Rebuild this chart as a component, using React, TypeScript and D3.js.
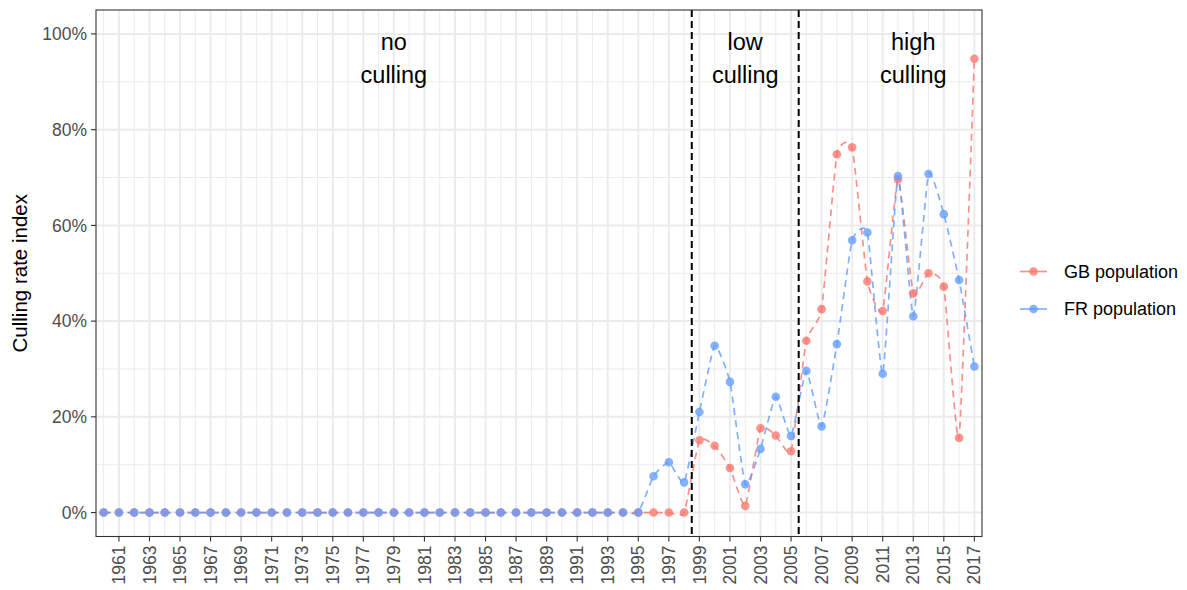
import React, { useEffect } from "react";
import * as d3 from "d3";

const years: number[] = [
  1960, 1961, 1962, 1963, 1964, 1965, 1966, 1967, 1968, 1969,
  1970, 1971, 1972, 1973, 1974, 1975, 1976, 1977, 1978, 1979,
  1980, 1981, 1982, 1983, 1984, 1985, 1986, 1987, 1988, 1989,
  1990, 1991, 1992, 1993, 1994, 1995, 1996, 1997, 1998, 1999,
  2000, 2001, 2002, 2003, 2004, 2005, 2006, 2007, 2008, 2009,
  2010, 2011, 2012, 2013, 2014, 2015, 2016, 2017,
];

// Culling rate index (fraction)
const gbValues: number[] = [
  0, 0, 0, 0, 0, 0, 0, 0, 0, 0,
  0, 0, 0, 0, 0, 0, 0, 0, 0, 0,
  0, 0, 0, 0, 0, 0, 0, 0, 0, 0,
  0, 0, 0, 0, 0, 0, 0, 0, 0, 0.151,
  0.1395, 0.093, 0.014, 0.176, 0.161, 0.128, 0.359, 0.425, 0.7485, 0.763,
  0.483, 0.421, 0.696, 0.458, 0.5, 0.472, 0.156, 0.948,
];

const frValues: number[] = [
  0, 0, 0, 0, 0, 0, 0, 0, 0, 0,
  0, 0, 0, 0, 0, 0, 0, 0, 0, 0,
  0, 0, 0, 0, 0, 0, 0, 0, 0, 0,
  0, 0, 0, 0, 0, 0, 0.076, 0.105, 0.063, 0.21,
  0.3485, 0.273, 0.059, 0.133, 0.242, 0.16, 0.296, 0.18, 0.352, 0.569,
  0.585, 0.29, 0.703, 0.41, 0.7075, 0.6235, 0.486, 0.305,
];

const xTickYears: number[] = [
  1961, 1963, 1965, 1967, 1969, 1971, 1973, 1975, 1977, 1979,
  1981, 1983, 1985, 1987, 1989, 1991, 1993, 1995, 1997, 1999,
  2001, 2003, 2005, 2007, 2009, 2011, 2013, 2015, 2017,
];
const xMinorYears: number[] = [
  1960, 1962, 1964, 1966, 1968, 1970, 1972, 1974, 1976, 1978,
  1980, 1982, 1984, 1986, 1988, 1990, 1992, 1994, 1996, 1998,
  2000, 2002, 2004, 2006, 2008, 2010, 2012, 2014, 2016,
];
const yTicks: number[] = [0, 0.2, 0.4, 0.6, 0.8, 1.0];
const yMinor: number[] = [0.1, 0.3, 0.5, 0.7, 0.9];

const periodBreaks: number[] = [1998.5, 2005.5];
const periodLabels: { year: number; lines: string[] }[] = [
  { year: 1979, lines: ["no", "culling"] },
  { year: 2002, lines: ["low", "culling"] },
  { year: 2013, lines: ["high", "culling"] },
];

const seriesNames = ["GB population", "FR population"];
const seriesColors = ["#F8766D", "#619CFF"];

const W = 1187;
const H = 590;
const panel = { left: 96, right: 982, top: 10, bottom: 536.5 };
const FONT = "'Liberation Sans', Arial, Helvetica, sans-serif";

export default function App() {
  useEffect(() => {
    document.body.style.margin = "0";
  }, []);

  const x = d3.scaleLinear().domain([1959.5, 2017.5]).range([panel.left, panel.right]);
  const y = d3.scaleLinear().domain([-0.05, 1.05]).range([panel.bottom, panel.top]);

  const series = [gbValues, frValues];
  const line = d3
    .line<number>()
    .x((_, i) => x(years[i]))
    .y((d) => y(d))
    .curve(d3.curveCardinal.tension(0.55));

  const pw = panel.right - panel.left;
  const ph = panel.bottom - panel.top;

  return (
    <svg
      width={W}
      height={H}
      style={{ display: "block", position: "absolute", left: 0, top: 0, background: "#fff" }}
      fontFamily={FONT}
    >
      <defs>
        <clipPath id="panelClip">
          <rect x={panel.left} y={panel.top} width={pw} height={ph} />
        </clipPath>
      </defs>
      <rect x={0} y={0} width={W} height={H} fill="#fff" />
      {/* minor grid */}
      <g stroke="#EBEBEB" strokeWidth={1}>
        {yMinor.map((v) => (
          <line key={"ym" + v} x1={panel.left} x2={panel.right} y1={y(v)} y2={y(v)} />
        ))}
        {xMinorYears.map((v) => (
          <line key={"xm" + v} y1={panel.top} y2={panel.bottom} x1={x(v)} x2={x(v)} />
        ))}
      </g>
      {/* major grid */}
      <g stroke="#EBEBEB" strokeWidth={2}>
        {yTicks.map((v) => (
          <line key={"yM" + v} x1={panel.left} x2={panel.right} y1={y(v)} y2={y(v)} />
        ))}
        {xTickYears.map((v) => (
          <line key={"xM" + v} y1={panel.top} y2={panel.bottom} x1={x(v)} x2={x(v)} />
        ))}
      </g>

      <g clipPath="url(#panelClip)">
        {series.map((vals, si) => (
          <path
            key={"l" + si}
            d={line(vals) || ""}
            fill="none"
            stroke={seriesColors[si]}
            strokeOpacity={0.8}
            strokeWidth={1.7}
            strokeDasharray="7,5"
          />
        ))}
        {series.map((vals, si) => (
          <g key={"p" + si} fill={seriesColors[si]} fillOpacity={0.78}>
            {vals.map((v, i) => (
              <circle key={i} cx={x(years[i])} cy={y(v)} r={4.3} />
            ))}
          </g>
        ))}
        {periodBreaks.map((b) => (
          <line
            key={"b" + b}
            x1={x(b)}
            x2={x(b)}
            y1={panel.top}
            y2={panel.bottom}
            stroke="#000"
            strokeWidth={2}
            strokeDasharray="7,4"
          />
        ))}
      </g>

      {periodLabels.map((p) => (
        <text
          key={"t" + p.year}
          x={x(p.year)}
          textAnchor="middle"
          fontSize={23.5}
          fill="#000"
        >
          {p.lines.map((s, i) => (
            <tspan key={i} x={x(p.year)} y={50 + i * 33}>
              {s}
            </tspan>
          ))}
        </text>
      ))}

      {/* panel border */}
      <rect
        x={panel.left}
        y={panel.top}
        width={pw}
        height={ph}
        fill="none"
        stroke="#333333"
        strokeWidth={1.1}
      />

      {/* y axis */}
      <g>
        {yTicks.map((v) => (
          <g key={"yt" + v}>
            <line x1={panel.left - 5} x2={panel.left} y1={y(v)} y2={y(v)} stroke="#333333" strokeWidth={1.1} />
            <text
              x={panel.left - 9}
              y={y(v)}
              dy="0.35em"
              textAnchor="end"
              fontSize={17.5}
              fill="#4D4D4D"
            >
              {d3.format(".0%")(v)}
            </text>
          </g>
        ))}
      </g>
      <text
        transform={`translate(27,${(panel.top + panel.bottom) / 2}) rotate(-90)`}
        textAnchor="middle"
        fontSize={20.5}
        fill="#000"
      >
        Culling rate index
      </text>

      {/* x axis */}
      <g>
        {xTickYears.map((v) => (
          <g key={"xt" + v}>
            <line x1={x(v)} x2={x(v)} y1={panel.bottom} y2={panel.bottom + 5} stroke="#333333" strokeWidth={1.1} />
            <text
              transform={`translate(${x(v)},${panel.bottom + 9}) rotate(-90)`}
              dy="0.35em"
              textAnchor="end"
              fontSize={17.5}
              fill="#4D4D4D"
            >
              {String(v)}
            </text>
          </g>
        ))}
      </g>

      {/* legend */}
      {seriesNames.map((name, i) => {
        const ly = 271.5 + i * 37.5;
        return (
          <g key={"lg" + i}>
            <line x1={1020} x2={1047} y1={ly} y2={ly} stroke={seriesColors[i]} strokeOpacity={0.8} strokeWidth={1.7} />
            <circle cx={1033.5} cy={ly} r={4.3} fill={seriesColors[i]} fillOpacity={0.78} />
            <text x={1064} y={ly} dy="0.35em" fontSize={18} fill="#000">
              {name}
            </text>
          </g>
        );
      })}
    </svg>
  );
}
